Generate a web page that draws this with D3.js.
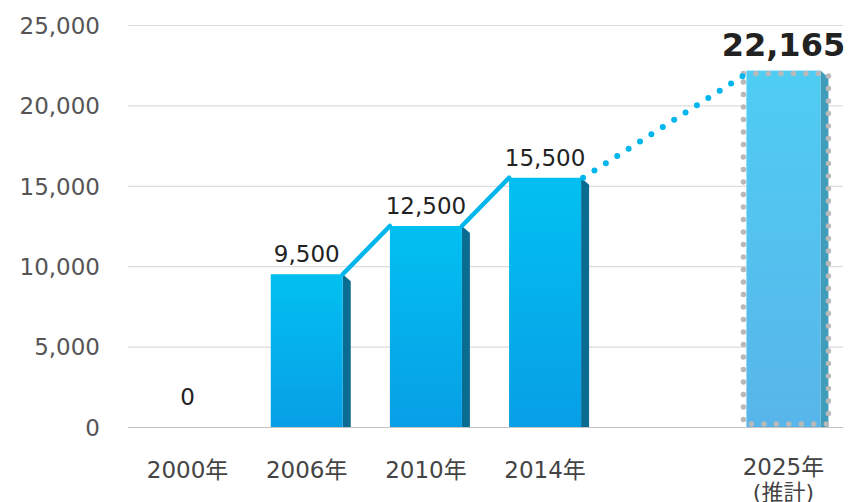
<!DOCTYPE html>
<html>
<head>
<meta charset="utf-8">
<script src="https://cdn.jsdelivr.net/npm/d3@7"></script>
<style>
  body { margin: 0; background: #fff; }
  text { font-family: "DejaVu Sans", "Noto Sans CJK JP", sans-serif; }
</style>
</head>
<body>
<div id="wrapper"></div>
<script>
// data
const years = ["2000年", "2006年", "2010年", "2014年", "2025年"]
const values = [0, 9500, 12500, 15500, 22165]
const estimated = [false, false, false, false, true]
const yTicks = [0, 5000, 10000, 15000, 20000, 25000]
const slots = ["2000年", "2006年", "2010年", "2014年", "", "2025年"]

function drawChart() {
    const dimensions = {
        width: 853,
        height: 502,
        margin: { top: 25, right: 10, bottom: 75, left: 128 },
    }
    dimensions.boundedWidth = dimensions.width - dimensions.margin.left - dimensions.margin.right
    dimensions.boundedHeight = dimensions.height - dimensions.margin.top - dimensions.margin.bottom

    const dataset = years.map((y, i) => ({ year: y, value: values[i], est: estimated[i] }))

    const svg = d3.select("#wrapper").append("svg")
        .attr("width", dimensions.width)
        .attr("height", dimensions.height)

    const defs = svg.append("defs")
    const g1 = defs.append("linearGradient").attr("id", "front").attr("x1", 0).attr("x2", 0).attr("y1", 0).attr("y2", 1)
    g1.append("stop").attr("offset", "0%").attr("stop-color", "#02c0f1")
    g1.append("stop").attr("offset", "100%").attr("stop-color", "#079fe6")
    const g2 = defs.append("linearGradient").attr("id", "frontEst").attr("x1", 0).attr("x2", 0).attr("y1", 0).attr("y2", 1)
    g2.append("stop").attr("offset", "0%").attr("stop-color", "#4fcdf3")
    g2.append("stop").attr("offset", "100%").attr("stop-color", "#58b5ea")

    const bounds = svg.append("g")
        .attr("transform", `translate(${dimensions.margin.left},${dimensions.margin.top})`)

    const xScale = d3.scaleBand()
        .domain(slots)
        .range([0, 715])
        .padding(0)

    const yScale = d3.scaleLinear()
        .domain([0, 25000])
        .range([dimensions.boundedHeight, 0])

    const cx = d => xScale(d.year) + xScale.bandwidth() / 2

    // gridlines + y tick labels
    const yAxis = d3.axisLeft(yScale)
        .tickValues(yTicks)
        .tickFormat(d3.format(","))
        .tickSize(-715)
        .tickPadding(28)
    const yAxisG = bounds.append("g").call(yAxis)
    yAxisG.select(".domain").remove()
    yAxisG.selectAll(".tick line")
        .attr("stroke", (d) => d === 0 ? "#c4c4c4" : "#dcdcdc")
        .attr("stroke-width", 1.2)
    yAxisG.selectAll(".tick text")
        .attr("fill", "#555")
        .style("font-family", "'DejaVu Sans', sans-serif")
        .style("font-size", "23px")
        .attr("dy", "0.36em")

    // x labels
    bounds.append("g").selectAll("text")
        .data(dataset)
        .join("text")
        .attr("x", cx)
        .attr("y", d => dimensions.boundedHeight + (d.est ? 48 : 51))
        .attr("text-anchor", "middle")
        .attr("fill", "#444")
        .style("font-size", "23px")
        .text(d => d.year)
    bounds.append("text")
        .attr("x", cx(dataset[4]))
        .attr("y", dimensions.boundedHeight + 73)
        .attr("text-anchor", "middle")
        .attr("fill", "#444")
        .style("font-size", "22px")
        .text("(推計)")

    const frontW = d => d.est ? 74 : 72
    const sideW = 8
    const barData = dataset.filter(d => d.value > 0)

    // side faces
    bounds.append("g").selectAll("path")
        .data(barData)
        .join("path")
        .attr("d", d => {
            const x1 = cx(d) + frontW(d) / 2
            const yt = yScale(d.value)
            const y0 = yScale(0)
            return `M${x1},${yt} L${x1 + sideW},${yt + 7} L${x1 + sideW},${y0} L${x1},${y0} Z`
        })
        .attr("fill", d => d.est ? "#3f9cba" : "#0a6c91")

    // front faces
    bounds.append("g").selectAll("rect")
        .data(barData)
        .join("rect")
        .attr("x", d => cx(d) - frontW(d) / 2)
        .attr("y", d => yScale(d.value))
        .attr("width", frontW)
        .attr("height", d => yScale(0) - yScale(d.value))
        .attr("fill", d => d.est ? "url(#frontEst)" : "url(#front)")

    // dotted frame around estimate
    const est = dataset[4]
    bounds.append("rect")
        .attr("x", cx(est) - frontW(est) / 2 - 3)
        .attr("y", yScale(est.value) + 3)
        .attr("width", frontW(est) + sideW + 3)
        .attr("height", yScale(0) - yScale(est.value) - 6)
        .attr("fill", "none")
        .attr("stroke", "#b9b9b9")
        .attr("stroke-width", 5.5)
        .attr("stroke-linecap", "round")
        .attr("stroke-dasharray", "0 12.5")

    // connecting line (actual values)
    const actual = dataset.slice(1, 4)
    const pts = []
    actual.forEach((d, i) => {
        if (i > 0) pts.push([cx(d) - frontW(d) / 2, yScale(d.value)])
        if (i < actual.length - 1) pts.push([cx(d) + frontW(d) / 2, yScale(d.value)])
    })
    const segs = []
    for (let i = 0; i < pts.length; i += 2) segs.push([pts[i], pts[i + 1]])
    bounds.append("g").selectAll("line")
        .data(segs)
        .join("line")
        .attr("x1", d => d[0][0]).attr("y1", d => d[0][1])
        .attr("x2", d => d[1][0]).attr("y2", d => d[1][1])
        .attr("stroke", "#00b6ec")
        .attr("stroke-width", 4.5)
        .attr("stroke-linecap", "round")

    // dotted projection line
    const last = dataset[3]
    bounds.append("line")
        .attr("x1", cx(last) + frontW(last) / 2 + 2)
        .attr("y1", yScale(last.value))
        .attr("x2", cx(est) - frontW(est) / 2 - 3)
        .attr("y2", yScale(est.value) + 5)
        .attr("stroke", "#00b6ec")
        .attr("stroke-width", 6)
        .attr("stroke-linecap", "round")
        .attr("stroke-dasharray", "0 13.5")

    // value labels
    bounds.append("g").selectAll("text")
        .data(dataset)
        .join("text")
        .attr("x", cx)
        .attr("y", d => d.est ? yScale(d.value) - 15 : yScale(d.value) - (d.value === 0 ? 22 : 12))
        .attr("text-anchor", "middle")
        .attr("fill", "#222")
        .style("font-size", d => d.est ? "32px" : "23px")
        .style("font-weight", d => d.est ? "bold" : "normal")
        .text(d => d3.format(",")(d.value))
}

drawChart()
</script>
</body>
</html>
